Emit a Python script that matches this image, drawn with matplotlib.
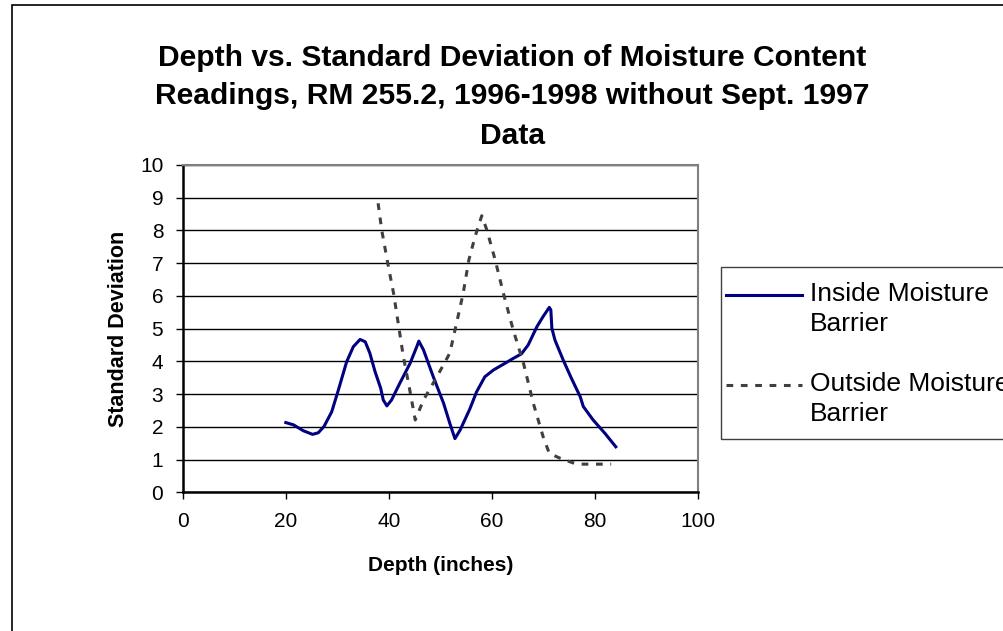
import matplotlib
matplotlib.use("Agg")
import matplotlib.pyplot as plt
from matplotlib.lines import Line2D
from matplotlib.patches import Rectangle

plt.rcParams['font.family'] = ['Liberation Sans', 'DejaVu Sans']

# Inside moisture barrier
inside_depth = [20.0, 21.5, 23.4, 25.2, 26.3, 27.4, 28.9, 30.2, 31.8, 33.1, 34.4,
                35.4, 36.3, 37.3, 38.4, 38.9, 39.6, 40.5, 42.1, 44.1, 45.4, 45.8,
                46.7, 48.6, 50.6, 51.8, 52.8, 53.8, 55.7, 57.0, 58.6, 60.3, 62.5,
                64.1, 65.7, 67.0, 68.7, 69.9, 71.1, 71.4, 71.6, 72.2, 73.8, 75.4,
                77.1, 77.7, 79.6, 81.9, 84.0]
inside_sd = [2.13, 2.06, 1.88, 1.77, 1.82, 2.01, 2.46, 3.13, 3.99, 4.45, 4.67,
             4.60, 4.25, 3.69, 3.18, 2.82, 2.64, 2.82, 3.33, 3.94, 4.45, 4.62,
             4.35, 3.53, 2.72, 2.11, 1.64, 1.90, 2.55, 3.07, 3.53, 3.74, 3.94,
             4.09, 4.23, 4.50, 5.06, 5.37, 5.65, 5.57, 5.01, 4.65, 4.04, 3.48,
             2.92, 2.62, 2.21, 1.80, 1.39]

# Outside moisture barrier
outside_depth = [37.9, 38.6, 39.9, 40.9, 42.0, 42.8, 43.8, 45.1, 46.7, 49.3,
                 51.8, 53.1, 54.4, 55.5, 56.7, 58.0, 59.0, 60.6, 62.2, 64.1,
                 66.1, 68.0, 69.9, 71.1, 73.2, 76.4, 83.1]
outside_sd = [8.83, 8.01, 6.89, 6.08, 4.96, 4.14, 3.33, 2.21, 2.82, 3.53,
              4.25, 5.16, 6.08, 7.10, 7.81, 8.45, 8.01, 7.10, 6.08, 4.96,
              3.94, 2.72, 1.70, 1.19, 1.04, 0.86, 0.86]

title = ("Depth vs. Standard Deviation of Moisture Content\n"
         "Readings, RM 255.2, 1996-1998 without Sept. 1997\nData")
labels = ["Inside Moisture\nBarrier", "Outside Moisture\nBarrier"]

fig = plt.figure(figsize=(10.04, 6.31), dpi=100)
W, H = 1004, 631

# outer chart border (right and bottom edges fall outside the image)
fig.add_artist(Rectangle((12 / W, -0.1), 1.2, 1 - 4.5 / H + 0.1, transform=fig.transFigure,
                         fill=False, edgecolor='black', lw=1.2))

ax = fig.add_axes([182.7 / W, 1 - 492.3 / H, 515.6 / W, 327.3 / H])
ax.plot(inside_depth, inside_sd, color='#000080', lw=2.2, solid_joinstyle='round')
ax.plot(outside_depth, outside_sd, color='#404040', lw=2.2, dashes=(2.2, 2.5))

ax.set_xlim(0, 100)
ax.set_ylim(0, 10)
ax.set_xticks(range(0, 101, 20))
ax.set_yticks(range(0, 11))
ax.grid(axis='y', color='black', lw=1)
ax.set_axisbelow(True)
for s in ['top', 'right']:
    ax.spines[s].set_color('#808080')
    ax.spines[s].set_linewidth(1.5)
for s in ['left', 'bottom']:
    ax.spines[s].set_color('black')
    ax.spines[s].set_linewidth(1.8)
ax.tick_params(direction='out', length=5, width=1, labelsize=15, pad=9)
ax.set_xlabel("Depth (inches)", fontsize=15, fontweight='bold', labelpad=18)
ax.set_ylabel("Standard Deviation", fontsize=15.5, fontweight='bold', labelpad=7.5)

fig.text(0.5105, 1 - 43.5 / H, title, ha='center', va='top', fontsize=21.6,
         fontweight='bold', linespacing=1.5)

# legend box, drawn by hand so the keys sit on the first text line
fig.add_artist(Rectangle((720.7 / W, 1 - 439 / H), 0.5, (439 - 267.3) / H,
                         transform=fig.transFigure, fill=False,
                         edgecolor='#404040', lw=1))
fig.add_artist(Line2D([726 / W, 802 / W], [1 - 295 / H] * 2, transform=fig.transFigure,
                      color='#000080', lw=2.2))
fig.add_artist(Line2D([726 / W, 802 / W], [1 - 385 / H] * 2, transform=fig.transFigure,
                      color='#404040', lw=2.2, dashes=(2.2, 2.5)))
for lab, y in zip(labels, [282, 372]):
    fig.text(810 / W, 1 - y / H, lab, ha='left', va='top', fontsize=19, linespacing=1.33)

fig.savefig("out.png", dpi=100)
